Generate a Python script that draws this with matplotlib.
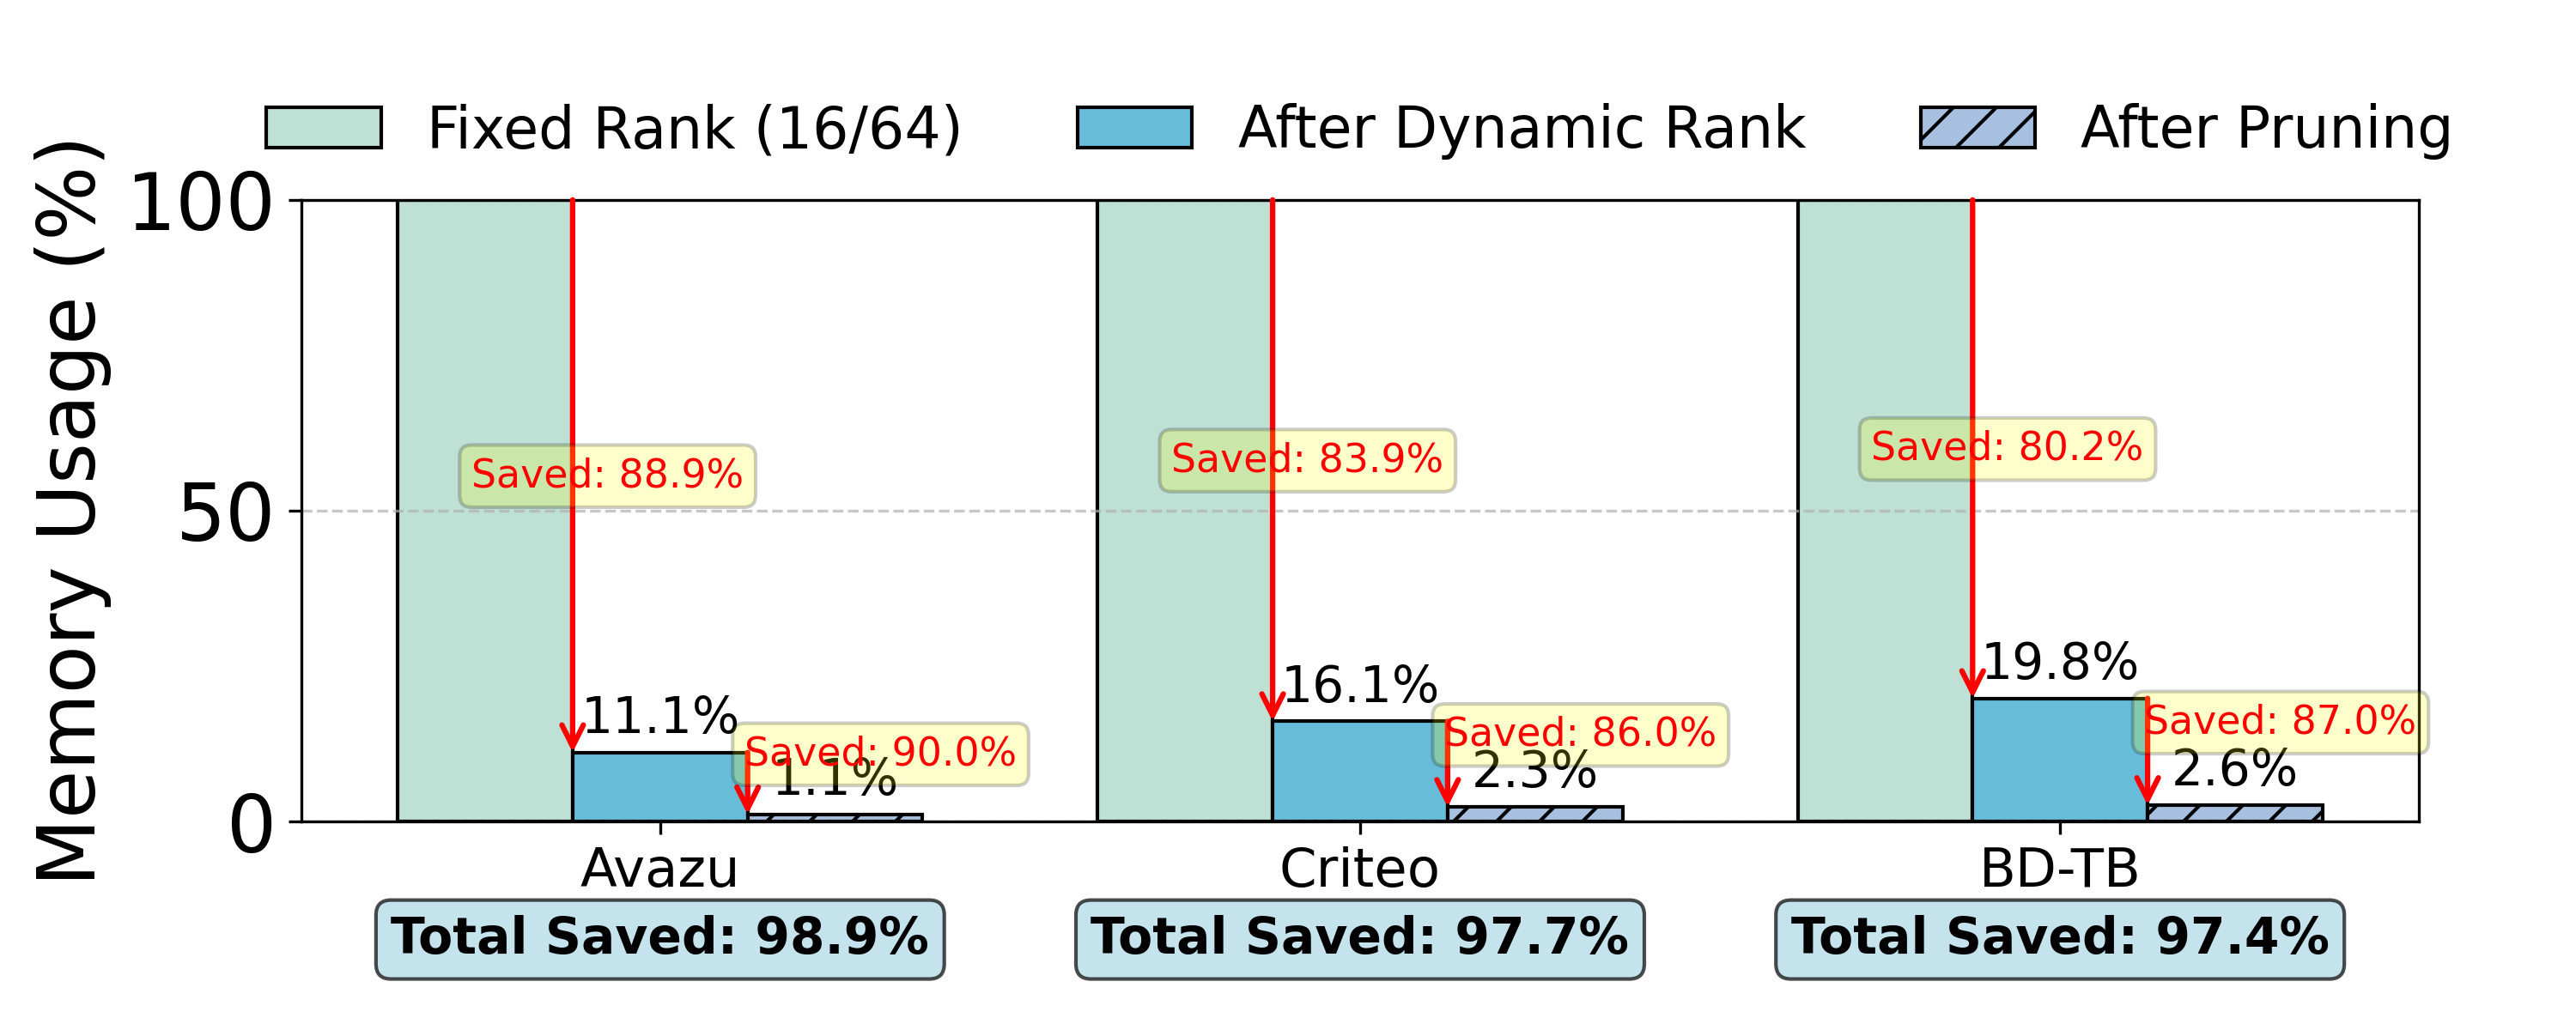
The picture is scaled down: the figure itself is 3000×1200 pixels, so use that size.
import numpy as np
import matplotlib
matplotlib.use('Agg')
import matplotlib.pyplot as plt
import matplotlib.transforms as mtransforms

# data
datasets = ['Avazu', 'Criteo', 'BD-TB']
fixed_rank = [100.0, 100.0, 100.0]
dynamic_rank = [11.1, 16.1, 19.8]
pruned = [1.1, 2.3, 2.6]
saved_dynamic = [88.9, 83.9, 80.2]
saved_pruning = [90.0, 86.0, 87.0]
total_saved = [98.9, 97.7, 97.4]

series_labels = ['Fixed Rank (16/64)', 'After Dynamic Rank', 'After Pruning']
colors = ['#bfe0d4', '#67bcd9', '#a7c0e0']

fig, ax = plt.subplots(figsize=(10, 4), dpi=300)
fig.subplots_adjust(left=0.117, right=0.939, top=0.806, bottom=0.2025)

x = np.arange(len(datasets))
w = 0.25

ax.bar(x - w, fixed_rank, w, color=colors[0], edgecolor='black', linewidth=1,
       label=series_labels[0])
ax.bar(x, dynamic_rank, w, color=colors[1], edgecolor='black', linewidth=1,
       label=series_labels[1])
ax.bar(x + w, pruned, w, color=colors[2], edgecolor='black', linewidth=1,
       hatch='//', label=series_labels[2])

# value labels
for i in range(len(datasets)):
    ax.text(x[i], dynamic_rank[i] + 1.5, f'{dynamic_rank[i]:.1f}%',
            ha='center', va='bottom', fontsize=14)
    ax.text(x[i] + w, pruned[i] + 1.5, f'{pruned[i]:.1f}%',
            ha='center', va='bottom', fontsize=14)

# reduction arrows + saved boxes
for i in range(len(datasets)):
    ax1 = x[i] - w / 2
    ax.annotate('', xy=(ax1, dynamic_rank[i]), xytext=(ax1, fixed_rank[i]),
                arrowprops=dict(arrowstyle='->', color='red', lw=1.5,
                                shrinkA=0, shrinkB=0, mutation_scale=15))
    mid = (fixed_rank[i] + dynamic_rank[i]) / 2
    ax.text(ax1 + 0.05, mid, f'Saved: {saved_dynamic[i]:.1f}%', color='red',
            fontsize=11, ha='center', va='center',
            bbox=dict(boxstyle='round,pad=0.3', facecolor='yellow', alpha=0.2))

    ax2 = x[i] + w / 2
    ax.annotate('', xy=(ax2, pruned[i]), xytext=(ax2, dynamic_rank[i]),
                arrowprops=dict(arrowstyle='->', color='red', lw=1.5,
                                shrinkA=0, shrinkB=0, mutation_scale=15))
    mid2 = (dynamic_rank[i] + pruned[i]) / 2
    ax.text(ax2 + 0.19, mid2 + 4.7, f'Saved: {saved_pruning[i]:.1f}%', color='red',
            fontsize=11, ha='center', va='center',
            bbox=dict(boxstyle='round,pad=0.3', facecolor='yellow', alpha=0.2))

# total saved under each group
trans = mtransforms.blended_transform_factory(ax.transData, ax.transAxes)
for i in range(len(datasets)):
    ax.text(x[i], -0.19, f'Total Saved: {total_saved[i]:.1f}%', transform=trans,
            ha='center', va='center', fontsize=14, fontweight='bold',
            bbox=dict(boxstyle='round,pad=0.3', facecolor='lightblue', alpha=0.7))

ax.set_xticks(x)
ax.set_xticklabels(datasets, fontsize=15)
ax.set_ylim(0, 100)
ax.set_yticks([0, 50, 100])
ax.tick_params(axis='y', labelsize=22)
ax.set_ylabel('Memory Usage (%)', fontsize=22)
ax.yaxis.grid(True, linestyle='--', alpha=0.7)

ax.legend(loc='center', bbox_to_anchor=(0.5, 1.11), ncol=3, fontsize=16,
          frameon=False)

plt.savefig('out.png', dpi=300)
